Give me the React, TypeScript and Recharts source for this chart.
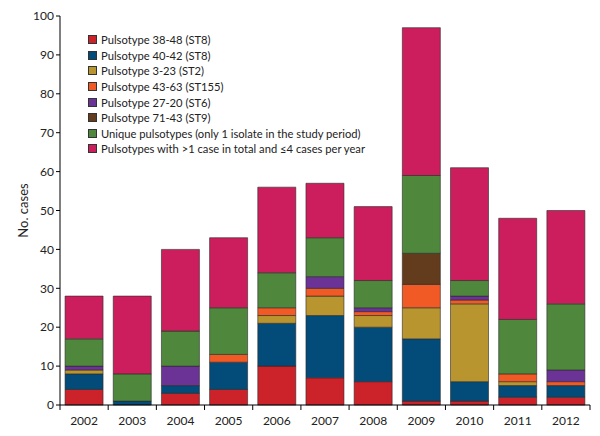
import { BarChart, Bar, XAxis, YAxis, Legend } from "recharts"

const years = ["2002", "2003", "2004", "2005", "2006", "2007", "2008", "2009", "2010", "2011", "2012"]

const pt3848 = [4, 0, 3, 4, 10, 7, 6, 1, 1, 2, 2]
const pt4042 = [4, 1, 2, 7, 11, 16, 14, 16, 5, 3, 3]
const pt323 = [1, 0, 0, 0, 2, 5, 3, 8, 20, 1, 0]
const pt4363 = [0, 0, 0, 2, 2, 2, 1, 6, 1, 2, 1]
const pt2720 = [1, 0, 5, 0, 0, 3, 1, 0, 1, 0, 3]
const pt7143 = [0, 0, 0, 0, 0, 0, 0, 8, 0, 0, 0]
const unique = [7, 7, 9, 12, 9, 10, 7, 20, 4, 14, 17]
const other = [11, 20, 21, 18, 22, 14, 19, 38, 29, 26, 24]

const yTicks = [0, 10, 20, 30, 40, 50, 60, 70, 80, 90, 100]

const series = [
  { key: "pt3848", name: "Pulsotype 38-48 (ST8)", color: "#cc2229" },
  { key: "pt4042", name: "Pulsotype 40-42 (ST8)", color: "#034b78" },
  { key: "pt323", name: "Pulsotype 3-23 (ST2)", color: "#b99530" },
  { key: "pt4363", name: "Pulsotype 43-63 (ST155)", color: "#f15a24" },
  { key: "pt2720", name: "Pulsotype 27-20 (ST6)", color: "#6c3396" },
  { key: "pt7143", name: "Pulsotype 71-43 (ST9)", color: "#623c1c" },
  { key: "unique", name: "Unique pulsotypes (only 1 isolate in the study period)", color: "#4f883c" },
  { key: "other", name: "Pulsotypes with >1 case in total and \u22644 cases per year", color: "#cc1e5d" },
]

const data = years.map((year, i) => ({
  year,
  pt3848: pt3848[i],
  pt4042: pt4042[i],
  pt323: pt323[i],
  pt4363: pt4363[i],
  pt2720: pt2720[i],
  pt7143: pt7143[i],
  unique: unique[i],
  other: other[i],
}))

const font = "Lato, 'Open Sans', sans-serif"

function YearTick(props: any) {
  const { x, y, payload } = props
  const half = payload.offset || 0
  return (
    <g>
      <line x1={x - half} y1={y - 8} x2={x - half} y2={y - 3} stroke="#000" strokeWidth={1} />
      {payload.index === years.length - 1 && (
        <line x1={x + half} y1={y - 8} x2={x + half} y2={y - 3} stroke="#000" strokeWidth={1} />
      )}
      <text x={x} y={y + 12} textAnchor="middle" fontSize={12} fill="#222" fontFamily={font}>
        {payload.value}
      </text>
    </g>
  )
}

function LegendBox(props: any) {
  const order = series.map((s) => s.name)
  const items = [...(props.payload || [])].sort(
    (a: any, b: any) => order.indexOf(a.value) - order.indexOf(b.value)
  )
  return (
    <div style={{ fontFamily: font, fontSize: 11.2, color: "#222" }}>
      {items.map((it: any) => (
        <div key={it.value} style={{ display: "flex", alignItems: "center", height: 15.6 }}>
          <span
            style={{
              display: "inline-block",
              width: 7,
              height: 7,
              background: it.color,
              border: "1px solid #333",
              marginRight: 4,
            }}
          />
          <span>{it.value}</span>
        </div>
      ))}
    </div>
  )
}

export default function App() {
  return (
    <div style={{ position: "absolute", left: 0, top: 0, background: "#fff" }}>
      <BarChart
        width={600}
        height={436}
        data={data}
        margin={{ top: 16, right: 10, bottom: 6, left: 18 }}
        barCategoryGap="10.5%"
      >
        <XAxis
          dataKey="year"
          stroke="#000"
          tickLine={false}
          tick={<YearTick />}
          height={25}
          interval={0}
        />
        <YAxis
          domain={[0, 100]}
          ticks={yTicks}
          stroke="#000"
          tickSize={4}
          width={42}
          interval={0}
          tick={{ fontSize: 12, fill: "#222", fontFamily: font }}
          label={{
            value: "No. cases",
            angle: -90,
            position: "insideLeft",
            offset: 5,
            style: { fontSize: 13, fill: "#222", fontFamily: font, textAnchor: "middle" },
          }}
        />
        <Legend
          layout="vertical"
          verticalAlign="middle"
          align="center"
          content={<LegendBox />}
          wrapperStyle={{ top: 32, left: 88, width: 300 }}
        />
        {series.map((s) => (
          <Bar
            key={s.key}
            dataKey={s.key}
            name={s.name}
            stackId="a"
            fill={s.color}
            stroke="#2a2a2a"
            strokeWidth={0.6}
            isAnimationActive={false}
          />
        ))}
      </BarChart>
    </div>
  )
}
